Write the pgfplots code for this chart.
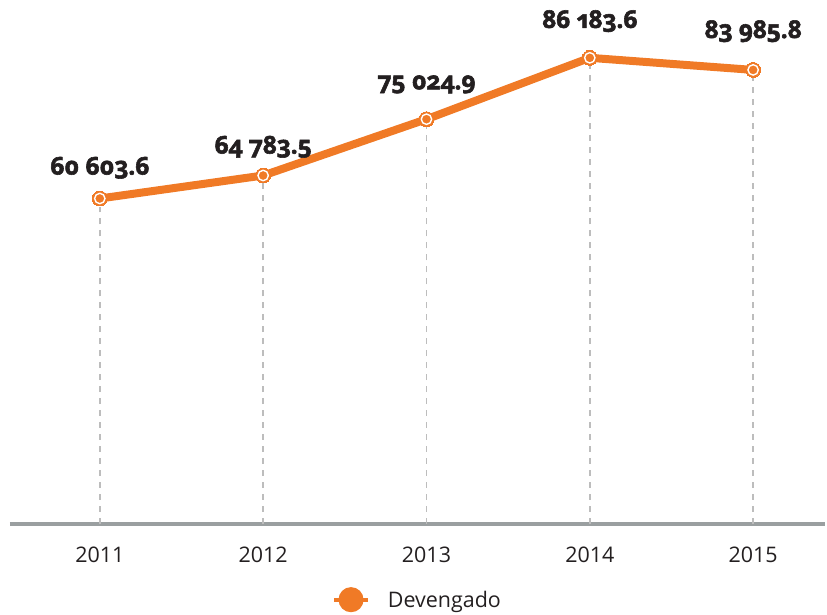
\documentclass[border=0pt]{standalone}
\usepackage{fontspec}
\setmainfont{Open Sans}
\newfontfamily\valfont[Numbers=OldStyle,BoldFeatures={FakeBold=2.3}]{Open Sans}
\usepackage{pgfplots}
\usepackage{pgfplotstable}
\pgfplotsset{compat=1.18}
\definecolor{lineor}{HTML}{F07A26}
\definecolor{axisgray}{HTML}{9A9FA0}
\definecolor{dropgray}{HTML}{BDBDBD}
\definecolor{textdark}{HTML}{231F20}
\pgfplotstableread[col sep=comma]{
x,y,lab,off
0,60603.6,60 603.6,24
1,64783.5,64 783.5,22
2,75024.9,75 024.9,30
3,86183.6,86 183.6,30
4,83985.8,83 985.8,32
}\datatable
\begin{document}
\begin{tikzpicture}
\begin{axis}[
  at={(0,0)}, anchor=south west,
  scale only axis, width=817pt, height=525pt,
  xmin=-0.55, xmax=4.44, ymin=1460, ymax=96700,
  hide y axis,
  axis x line*=bottom,
  x axis line style={-, line width=4pt, color=axisgray},
  xtick={0,1,2,3,4},
  xticklabels={2011,2012,2013,2014,2015},
  major tick length=0pt,
  xticklabel style={font=\fontsize{21.5}{25}\selectfont, text=textdark, yshift=-20pt},
  legend style={at={(axis description cs:0.5,-0.145)}, anchor=center, draw=none, fill=none,
    font=\fontsize{21.5}{25}\selectfont, text=textdark, legend columns=1},
  legend image code/.code={
    \draw[lineor, line width=4pt] (0pt,0pt) -- (34pt,0pt);
    \fill[lineor] (17pt,0pt) circle (8.5pt);
    \path[draw=none, fill=none] (0pt,0pt) -- (52pt,0pt);
  },
]
\addplot[ycomb, color=dropgray, line width=1.5pt, dash pattern=on 6pt off 6pt, forget plot]
  table[x=x, y=y] {\datatable};
\addplot[color=lineor, line width=8pt, mark=*, mark size=7.5pt,
  mark options={fill=lineor, draw=lineor, line width=0pt},
  point meta=explicit symbolic,
  visualization depends on={\thisrow{off}\as\myoff},
  nodes near coords,
  nodes near coords style={font=\valfont\bfseries\fontsize{24.5}{28}\selectfont, text=textdark, anchor=base, yshift=\myoff pt}]
  table[x=x, y=y, meta=lab] {\datatable};
\addlegendentry{Devengado}
\addplot[only marks, mark=*, mark size=5.2pt, mark options={fill=lineor, draw=white, line width=1.4pt}, forget plot]
  table[x=x, y=y] {\datatable};
\end{axis}
\path[use as bounding box] (-10pt,-90pt) rectangle (817pt,525pt);
\end{tikzpicture}
\end{document}
